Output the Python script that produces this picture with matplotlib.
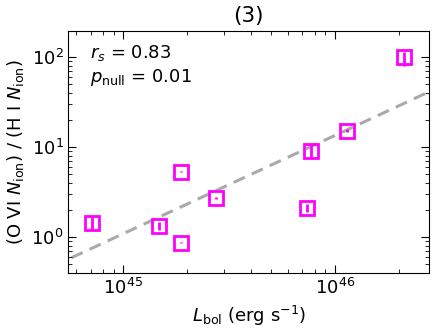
import numpy as np
import matplotlib
matplotlib.use("Agg")
import matplotlib.pyplot as plt

# bolometric luminosity (erg/s) and O VI / H I column ratio
l_bol = [7.1e44, 1.47e45, 1.87e45, 1.87e45, 2.73e45, 7.35e45, 7.68e45, 1.135e46, 2.12e46]
ratio = [1.43, 1.34, 5.36, 0.87, 2.75, 2.1, 9.17, 15.3, 101.0]
err_lo = [0.24, 0.14, 0.12, 0.02, 0.06, 0.22, 1.5, 0.5, 21.0]
err_hi = [0.24, 0.14, 0.12, 0.02, 0.06, 0.22, 1.5, 0.5, 15.0]

# power-law fit: log y = slope * (log L - 46) + icept
fit_slope = 1.093
fit_icept = 1.132
r_s = 0.83
p_null = 0.01

plt.rcParams['font.size'] = 13

fig = plt.figure(figsize=(4.33, 3.30), dpi=100)
ax = fig.add_axes([0.158, 0.173, 0.833, 0.734])

xx = np.logspace(44.5, 46.7, 50)
ax.plot(xx, 10 ** (fit_slope * (np.log10(xx) - 46) + fit_icept), ls='--',
        color='#aaaaaa', lw=2.2, dashes=(4, 2.5), zorder=1)

ax.errorbar(l_bol, ratio, yerr=[err_lo, err_hi], fmt='s', ms=10, mfc='none',
            mec='#ff00ff', mew=2, ecolor='#ff00ff', elinewidth=2,
            capsize=0, zorder=3)

ax.set_xscale('log')
ax.set_yscale('log')
ax.set_xlim(5.5e44, 2.78e46)
ax.set_ylim(0.40, 198)

ax.tick_params(which='both', direction='in', top=True, right=True)
ax.tick_params(which='major', length=6)
ax.tick_params(which='minor', length=3)

ax.text(0.06, 0.95, '$r_s$ = %.2f\n$p_{\\rm null}$ = %.2f' % (r_s, p_null),
        transform=ax.transAxes, va='top', ha='left', linespacing=1.3)

ax.set_xlabel(r'$L_{\rm bol}$ (erg s$^{-1}$)')
ax.set_ylabel(r'(O VI $N_{\rm ion}$) / (H I $N_{\rm ion}$)')
ax.set_title('(3)')

fig.savefig('out.png', dpi=100)
